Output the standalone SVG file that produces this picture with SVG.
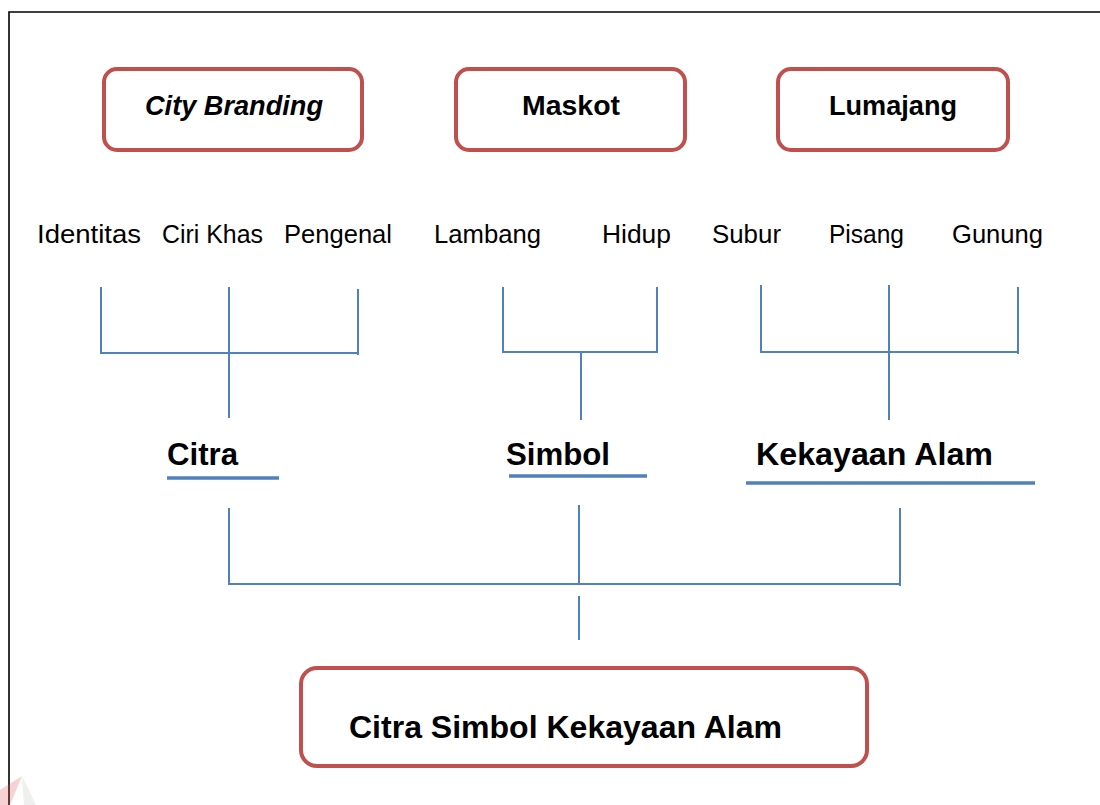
<svg xmlns="http://www.w3.org/2000/svg" width="1100" height="805" viewBox="0 0 1100 805">
<style>
.box{fill:#fff;stroke:#c0504d;stroke-width:4}
.lbl{font-family:"Liberation Sans",Arial,sans-serif;font-size:25px;fill:#000}
.bt{font-family:"Liberation Sans",Arial,sans-serif;font-weight:bold;fill:#000}
.ln{stroke:#4f81bd;stroke-width:2;fill:none}
.ul{stroke:#4f81bd;stroke-width:3.5;fill:none}
</style>
<rect width="1100" height="805" fill="#fff"/>
<path d="M9,805 V12 H1100" stroke="#000" stroke-width="1.6" fill="none"/>
<g id="watermark" opacity="0.25">
<polygon points="0,790 22,776 10,805 0,805" fill="#e05050"/>
<polygon points="22,776 36,805 24,805" fill="#c0c0c0"/>
</g>
<g id="node-city-branding">
<rect class="box" x="104" y="69" width="258" height="81" rx="13"/>
<text class="bt" x="145" y="115" font-size="27" font-style="italic" textLength="178" lengthAdjust="spacingAndGlyphs">City Branding</text>
</g>
<g id="node-maskot">
<rect class="box" x="456" y="69" width="229" height="81" rx="13"/>
<text class="bt" x="522" y="115" font-size="27" textLength="98" lengthAdjust="spacingAndGlyphs">Maskot</text>
</g>
<g id="node-lumajang">
<rect class="box" x="778" y="69" width="230" height="81" rx="13"/>
<text class="bt" x="829" y="115" font-size="27" textLength="128" lengthAdjust="spacingAndGlyphs">Lumajang</text>
</g>
<g id="terms">
<text class="lbl" x="37" y="243" textLength="104" lengthAdjust="spacingAndGlyphs">Identitas</text>
<text class="lbl" x="162" y="243" textLength="101" lengthAdjust="spacingAndGlyphs">Ciri Khas</text>
<text class="lbl" x="284" y="243" textLength="108" lengthAdjust="spacingAndGlyphs">Pengenal</text>
<text class="lbl" x="434" y="243" textLength="107" lengthAdjust="spacingAndGlyphs">Lambang</text>
<text class="lbl" x="602" y="243" textLength="69" lengthAdjust="spacingAndGlyphs">Hidup</text>
<text class="lbl" x="712" y="243" textLength="69" lengthAdjust="spacingAndGlyphs">Subur</text>
<text class="lbl" x="829" y="243" textLength="75" lengthAdjust="spacingAndGlyphs">Pisang</text>
<text class="lbl" x="952" y="243" textLength="91" lengthAdjust="spacingAndGlyphs">Gunung</text>
</g>
<g id="node-citra">
<text class="bt" x="167" y="465" font-size="31" textLength="71" lengthAdjust="spacingAndGlyphs">Citra</text>
<line class="ul" x1="167" y1="478" x2="279" y2="478"/>
</g>
<g id="node-simbol">
<text class="bt" x="506" y="465" font-size="31" textLength="104" lengthAdjust="spacingAndGlyphs">Simbol</text>
<line class="ul" x1="509" y1="476" x2="647" y2="476"/>
</g>
<g id="node-kekayaan-alam">
<text class="bt" x="756" y="465" font-size="31" textLength="237" lengthAdjust="spacingAndGlyphs">Kekayaan Alam</text>
<line class="ul" x1="746" y1="483" x2="1035" y2="483"/>
</g>
<g id="node-result">
<rect class="box" x="301" y="668" width="566" height="98" rx="16"/>
<text class="bt" x="349" y="738" font-size="31" textLength="433" lengthAdjust="spacingAndGlyphs">Citra Simbol Kekayaan Alam</text>
</g>
<g id="connectors">
<path class="ln" d="M101,287 V353 H358 M358,289 V355 M229,287 V418"/>
<path class="ln" d="M503,287 V352 H657 M657,287 V353 M581,352 V420"/>
<path class="ln" d="M761,285 V352 H1018 M1018,287 V354 M889,285 V420"/>
<path class="ln" d="M229,508 V584 H900 M900,508 V586 M579,505 V584 M579,596 V640"/>
</g>
</svg>
